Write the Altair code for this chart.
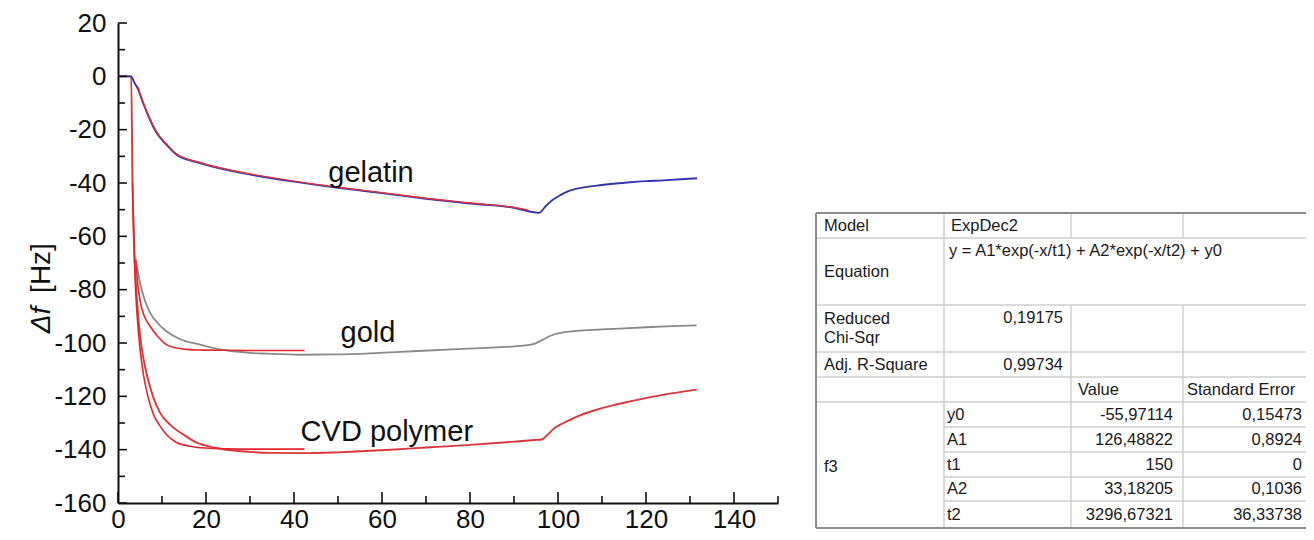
import altair as alt
import pandas as pd

# ---------------- data ----------------
# gelatin measurement (blue)
gel_x = [0, 3.0, 3.6, 4.6, 5.7, 7.2, 8.7, 11.0, 13.3, 18.6, 26.2, 30, 40, 50, 56.5, 60, 70, 80, 90,
         93.3, 95.7, 97.2, 98.9, 100.5, 102, 105, 108.8, 112.6, 116.4, 120, 123.9, 128, 131.6]
gel_y = [0, 0, -2, -5, -10, -16, -21, -25.6, -29.4, -32.5, -35.6, -36.8, -39.5, -41.8, -43.1, -43.8,
         -45.9, -47.7, -49.3, -50.6, -51.2, -48.7, -46.2, -44.6, -43.3, -41.9, -41.0, -40.3, -39.7,
         -39.3, -39.0, -38.6, -38.2]
# gelatin fit (red)
gelfit_x = [4.5, 5.7, 7.2, 8.7, 11.0, 13.3, 18.6, 26.2, 30, 40, 50, 60, 70, 80, 90, 93.3]
gelfit_y = [-4, -9.6, -15.6, -20.6, -25.3, -29.1, -32.3, -35.4, -36.6, -39.3, -41.6, -43.6, -45.7,
            -47.5, -49.2, -50.2]

# gold measurement (grey)
gold_x = [4.0, 4.5, 5.0, 6.0, 7.3, 9.0, 11.0, 14.0, 18.6, 22, 26.2, 30, 33.8, 41.4, 50, 59.5, 67,
          74.7, 85, 92.1, 94.8, 96.0, 98.9, 101, 103.5, 108, 112.6, 120, 126, 131.5]
gold_y = [-68.7, -73, -77.4, -83.5, -88.7, -92.5, -95.6, -98.5, -100.6, -102, -103.1, -103.7,
          -104.0, -104.4, -104.3, -103.7, -103.1, -102.5, -101.7, -101.0, -100.2, -99.2, -96.9,
          -96.1, -95.6, -95.1, -94.7, -94.1, -93.7, -93.4]
# gold fit (red)
goldfit_x = [4.0, 4.5, 5.0, 6.0, 7.3, 9.0, 11.0, 13.0, 15.0, 18.0, 22.0, 30.0, 42.4]
goldfit_y = [-68.7, -78, -84, -90, -93.7, -97.5, -100.6, -101.8, -102.3, -102.6, -102.7, -102.8,
             -102.8]

# CVD polymer measurement (red)
cvd_x = [0, 3.0, 3.3, 3.6, 4.0, 4.5, 5.0, 5.8, 6.8, 7.95, 9.5, 12.1, 15, 17.8, 22, 28, 35, 43, 50,
         60, 70, 80, 90, 94.5, 96.3, 97.5, 99, 101, 103, 105, 108, 112.6, 116.4, 120.2, 125, 131.5]
cvd_y = [0, 0, -40, -60, -76, -88, -97, -106, -113.5, -120, -126, -131, -134.5, -137.3, -139.3,
         -140.6, -141.2, -141.3, -141.0, -140.2, -139.2, -138.2, -137.0, -136.4, -136.2, -134.6,
         -132.2, -130.2, -128.6, -127.1, -125.4, -123.3, -121.9, -120.6, -119.1, -117.5]
# CVD polymer fit (red)
cvdfit_x = [3.3, 3.6, 4.0, 4.5, 5.0, 5.8, 6.8, 8.0, 9.5, 11.0, 13.3, 16, 20, 25, 30, 36, 42.4]
cvdfit_y = [-40, -62, -80, -93, -102, -112, -120, -126.5, -131, -134.3, -137.3, -138.6, -139.4,
            -139.7, -139.8, -139.8, -139.8]

# curve labels
label_text = ["gelatin", "gold", "CVD polymer"]
label_x = [57.5, 56.8, 61.1]
label_y = [-36.1, -96.1, -133.2]

# axis ticks
x_major = [0, 20, 40, 60, 80, 100, 120, 140]
x_minor = [10, 30, 50, 70, 90, 110, 130, 150]
y_major = [-160, -140, -120, -100, -80, -60, -40, -20, 0, 20]
y_minor = [-150, -130, -110, -90, -70, -50, -30, -10, 10]

# fit result table
tbl_model = "ExpDec2"
tbl_equation = "y = A1*exp(-x/t1) + A2*exp(-x/t2) + y0"
tbl_chi = "0,19175"
tbl_r2 = "0,99734"
tbl_group = "f3"
param_names = ["y0", "A1", "t1", "A2", "t2"]
param_values = ["-55,97114", "126,48822", "150", "33,18205", "3296,67321"]
param_errors = ["0,15473", "0,8924", "0", "0,1036", "36,33738"]

# ---------------- layout ----------------
W, H = 660, 480
OX, OY = 118, 23          # page position of plot origin (8px page margin + padding)
FONT = "Liberation Sans"

xscale = alt.Scale(domain=[0, 150], nice=False, zero=False)
yscale = alt.Scale(domain=[-160, 20], nice=False, zero=False)
xaxis = alt.Axis(values=x_major, title=None, ticks=False, tickSize=0, grid=False, labelFontSize=26,
                 labelFont=FONT, labelColor="#111", labelPadding=3, domainColor="#111",
                 domainWidth=2, labelFlush=False, labelExpr="'' + datum.value")
yaxis = alt.Axis(values=y_major, title=None, ticks=False, tickSize=0, grid=False, labelFontSize=26,
                 labelFont=FONT, labelColor="#111", labelPadding=12, domainColor="#111",
                 domainWidth=2, labelFlush=False, labelExpr="'' + datum.value")


def line_layer(xs, ys, color, width):
    df = pd.DataFrame({"x": xs, "y": ys})
    return alt.Chart(df).mark_line(color=color, strokeWidth=width, interpolate="monotone").encode(
        x=alt.X("x:Q", scale=xscale, axis=xaxis),
        y=alt.Y("y:Q", scale=yscale, axis=yaxis),
        order=alt.Order("x:Q"),
    )


layers = [
    line_layer(gold_x, gold_y, "#8a8a8a", 1.8),
    line_layer(goldfit_x, goldfit_y, "#e3262b", 1.6),
    line_layer(cvd_x, cvd_y, "#d9383a", 1.9),
    line_layer(cvdfit_x, cvdfit_y, "#e3262b", 1.6),
    line_layer(gel_x, gel_y, "#3535b0", 1.9),
    line_layer(gelfit_x, gelfit_y, "#e0303a", 1.4),
]

# inward ticks
def tick_layer(vals, axis, length):
    df = pd.DataFrame({"v": vals})
    if axis == "x":
        enc = dict(x=alt.X("v:Q", scale=xscale, axis=xaxis), y=alt.value(H), y2=alt.value(H - length))
    else:
        enc = dict(y=alt.Y("v:Q", scale=yscale, axis=yaxis), x=alt.value(0), x2=alt.value(length))
    return alt.Chart(df).mark_rule(color="#111", strokeWidth=1.6).encode(**enc)


layers += [tick_layer(x_major, "x", 11), tick_layer(x_minor, "x", 7),
           tick_layer(y_major, "y", 9), tick_layer(y_minor, "y", 7)]

# curve labels
lab_df = pd.DataFrame({"t": label_text, "x": label_x, "y": label_y})
layers.append(alt.Chart(lab_df).mark_text(fontSize=29, font=FONT, color="#111", align="center",
                                         baseline="middle").encode(
    x=alt.X("x:Q", scale=xscale, axis=xaxis), y=alt.Y("y:Q", scale=yscale, axis=yaxis), text="t:N"))

# y axis title (italic Δf + [Hz])
title_df = pd.DataFrame({"t": ["Δf", "[Hz]"]})
layers.append(alt.Chart(title_df.iloc[[0]]).mark_text(fontSize=28, font=FONT, fontStyle="italic",
                                                      color="#111", angle=270, align="center",
                                                      baseline="middle").encode(
    text="t:N", x=alt.value(42 - OX), y=alt.value(320 - OY)))
layers.append(alt.Chart(title_df.iloc[[1]]).mark_text(fontSize=28, font=FONT, color="#111",
                                                      angle=270, align="center",
                                                      baseline="middle").encode(
    text="t:N", x=alt.value(42 - OX), y=alt.value(268 - OY)))

# ---------------- table ----------------
cols = [816, 944, 1071, 1183, 1310]
rows = [213, 238, 305, 352, 377, 402, 427, 452, 477, 501, 528]

segs = []
for y in rows[1:6]:
    segs.append((cols[0], y, cols[4], y))
for y in rows[6:10]:
    segs.append((cols[1], y, cols[4], y))
segs.append((cols[1], rows[0], cols[1], rows[-1]))
for c in cols[2:4]:
    segs.append((c, rows[0], c, rows[1]))
    segs.append((c, rows[2], c, rows[-1]))
seg_df = pd.DataFrame([(a - OX, b - OY, c - OX, d - OY) for a, b, c, d in segs],
                      columns=["x1", "y1", "x2", "y2"])
border_df = pd.DataFrame([(cols[0], rows[0], cols[4], rows[0]), (cols[0], rows[-1], cols[4], rows[-1]),
                          (cols[0], rows[0], cols[0], rows[-1]), (cols[4], rows[0], cols[4], rows[-1])],
                         columns=["x1", "y1", "x2", "y2"])
border_df[["x1", "x2"]] -= OX
border_df[["y1", "y2"]] -= OY


def seg_layer(df, color, width):
    return alt.Chart(df).mark_rule(color=color, strokeWidth=width).encode(
        x=alt.X("x1:Q", scale=None, axis=None), x2="x2:Q",
        y=alt.Y("y1:Q", scale=None, axis=None), y2="y2:Q")


layers.append(seg_layer(seg_df, "#cfcfcf", 1.5))
layers.append(seg_layer(border_df, "#8c8c8c", 2))

left_txt = [
    ("Model", cols[0] + 8, (rows[0] + rows[1]) / 2),
    ("Equation", cols[0] + 8, (rows[1] + rows[2]) / 2),
    ("Reduced", cols[0] + 8, (rows[2] + rows[3]) / 2 - 9.5),
    ("Chi-Sqr", cols[0] + 8, (rows[2] + rows[3]) / 2 + 9.5),
    ("Adj. R-Square", cols[0] + 8, (rows[3] + rows[4]) / 2),
    (tbl_group, cols[0] + 8, (rows[5] + rows[-1]) / 2 + 2),
    (tbl_model, cols[1] + 7, rows[0] + 12.5),
    (tbl_equation, cols[1] + 5, rows[1] + 12.5),
    ("Value", cols[2] + 7, rows[4] + 12.5),
    ("Standard Error", cols[3] + 4, rows[4] + 12.5),
]
for i, n in enumerate(param_names):
    left_txt.append((n, cols[1] + 3, (rows[5 + i] + rows[6 + i]) / 2))
right_txt = [
    (tbl_chi, cols[2] - 8, rows[2] + 12.5),
    (tbl_r2, cols[2] - 8, rows[3] + 12.5),
]
for i in range(len(param_names)):
    yc = (rows[5 + i] + rows[6 + i]) / 2
    right_txt.append((param_values[i], cols[3] - 10, yc))
    right_txt.append((param_errors[i], cols[4] - 8, yc))


def txt_layer(items, align):
    df = pd.DataFrame([(t, x - OX, y - OY) for t, x, y in items], columns=["t", "x", "y"])
    return alt.Chart(df).mark_text(fontSize=16.5, font=FONT, color="#1a1a1a", align=align,
                                   baseline="middle").encode(
        x=alt.X("x:Q", scale=None, axis=None), y=alt.Y("y:Q", scale=None, axis=None), text="t:N")


layers.append(txt_layer(left_txt, "left"))
layers.append(txt_layer(right_txt, "right"))

chart = alt.layer(*layers).properties(
    width=W, height=H,
    autosize=alt.AutoSizeParams(type="none"),
    padding={"left": OX - 8, "top": OY - 8, "right": 1298 - W - (OX - 8), "bottom": 524 - H - (OY - 8)},
    background="white",
).configure_view(stroke=None)

chart.save("out.html", embed_options={"renderer": "svg", "actions": False})
